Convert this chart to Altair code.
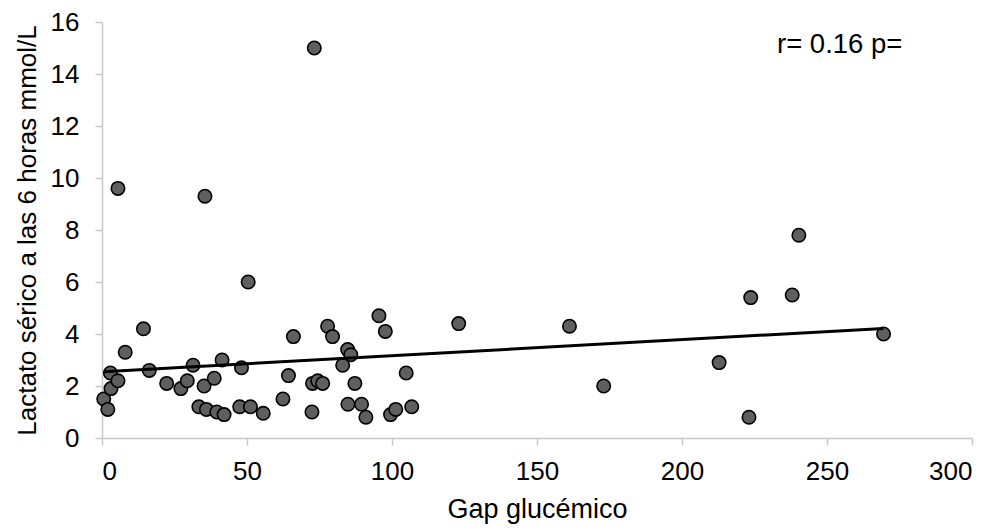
import altair as alt
import pandas as pd

gap = [0.6, 2.0, 3.1, 2.9, 5.5, 5.5, 8.0, 14.3, 16.3, 22.3, 27.2, 29.4, 31.4, 33.4,
       35.2, 36.0, 35.5, 38.7, 39.6, 42.1, 41.4, 47.5, 48.1, 50.4, 51.2, 55.6,
       62.4, 64.3, 66.0, 72.4, 72.6, 74.4, 76.1, 73.2, 77.8, 79.5, 83.0, 84.7,
       84.8, 85.8, 87.2, 89.5, 91.0, 95.5, 97.7, 99.5, 101.3, 104.9, 106.8,
       123.0, 161.2, 173.0, 212.8, 223.1, 223.7, 238.0, 240.3, 269.5]
lactato = [1.5, 1.1, 1.9, 2.5, 2.2, 9.6, 3.3, 4.2, 2.6, 2.1, 1.9, 2.2, 2.8, 1.2,
           2.0, 1.1, 9.3, 2.3, 1.0, 0.9, 3.0, 1.2, 2.7, 6.0, 1.2, 0.95,
           1.5, 2.4, 3.9, 1.0, 2.1, 2.2, 2.1, 15.0, 4.3, 3.9, 2.8, 3.4,
           1.3, 3.2, 2.1, 1.3, 0.8, 4.7, 4.1, 0.9, 1.1, 2.5, 1.2,
           4.4, 4.3, 2.0, 2.9, 0.8, 5.4, 5.5, 7.8, 4.0]

x_ticks = [0, 50, 100, 150, 200, 250, 300]
y_ticks = [0, 2, 4, 6, 8, 10, 12, 14, 16]
annotation = ["r= 0.16 p="]

df = pd.DataFrame({"gap": gap, "lactato": lactato})

FONT = "Liberation Sans"
AXIS_GRAY = "#c8c8c8"

x_enc = alt.X("gap:Q", scale=alt.Scale(domain=[0, 300], nice=False),
              axis=alt.Axis(values=x_ticks, title="Gap glucémico", grid=False,
                            domainColor=AXIS_GRAY, tickColor=AXIS_GRAY, tickSize=7,
                            domainWidth=1.5, tickWidth=1.5,
                            labelFont=FONT, labelFontSize=26, labelColor="black",
                            labelPadding=13, titleFont=FONT, titleFontSize=27,
                            titleFontWeight="normal", titleColor="black",
                            titlePadding=12))
y_enc = alt.Y("lactato:Q", scale=alt.Scale(domain=[0, 16], nice=False),
              axis=alt.Axis(values=y_ticks, title="Lactato sérico a las 6 horas mmol/L",
                            grid=False, domainColor=AXIS_GRAY, tickColor=AXIS_GRAY,
                            tickSize=7, domainWidth=1.5, tickWidth=1.5,
                            labelFont=FONT, labelFontSize=26, labelColor="black",
                            labelPadding=16, titleFont=FONT, titleFontSize=26,
                            titleFontWeight="normal", titleColor="black",
                            titlePadding=10))

base = alt.Chart(df)

trend = base.transform_regression("gap", "lactato", extent=[0.6, 269.5]).mark_line(
    color="black", strokeWidth=3
).encode(x=x_enc, y=y_enc)

points = base.mark_point(filled=True, size=180, color="#5f5f5f", stroke="black",
                         strokeWidth=1.6, opacity=1, fillOpacity=1).encode(x=x_enc, y=y_enc)

text = alt.Chart(pd.DataFrame({"t": annotation})).mark_text(
    font=FONT, fontSize=27.5, color="black", align="left", baseline="alphabetic"
).encode(text="t:N", x=alt.value(675), y=alt.value(31))

chart = alt.layer(points, trend, text).properties(
    width=870, height=416,
    autosize=alt.AutoSizeParams(type="none"),
    padding={"left": 94, "top": 14, "right": 10, "bottom": 100},
).configure_view(stroke=None)

chart.save("out.html", embed_options={"renderer": "svg", "actions": False})
